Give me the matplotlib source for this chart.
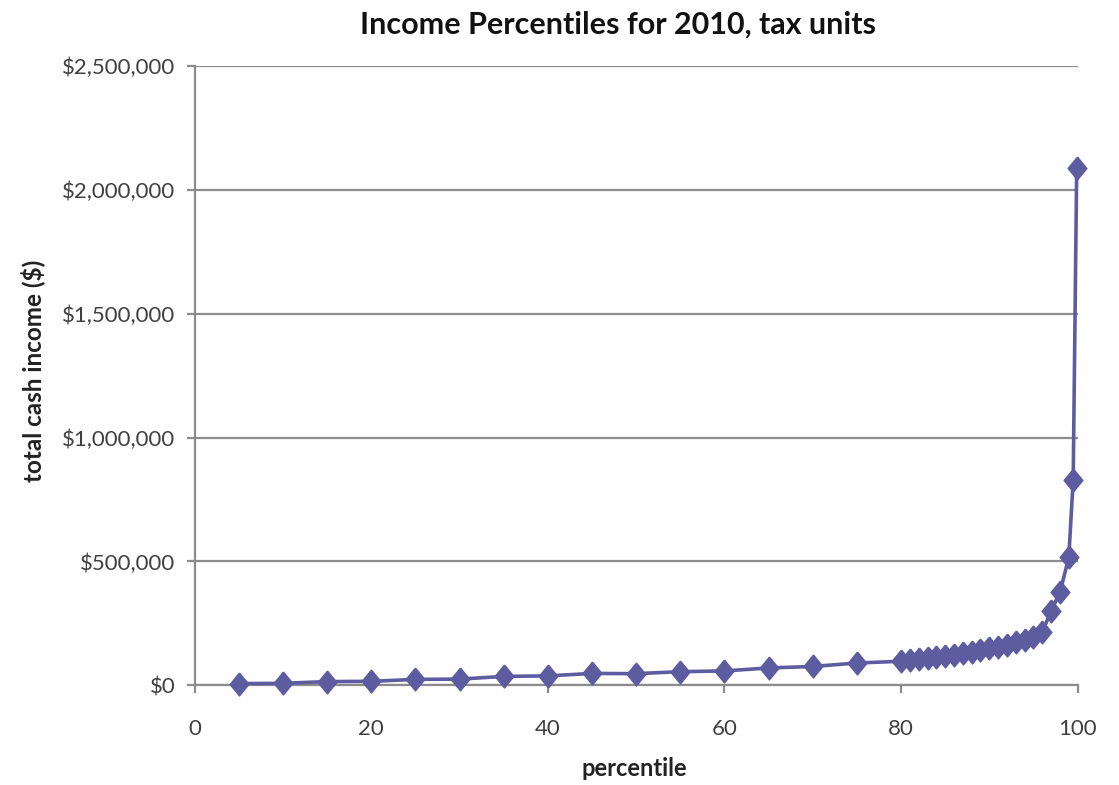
import matplotlib
matplotlib.use("Agg")
import matplotlib.pyplot as plt
from matplotlib.ticker import FuncFormatter

plt.rcParams['font.family'] = ['Lato', 'DejaVu Sans']

title = "Income Percentiles for 2010, tax units"
xlabel = "percentile"
ylabel = "total cash income ($)"

percentiles = [5, 10, 15, 20, 25, 30, 35, 40, 45, 50, 55, 60, 65, 70, 75,
               80, 81, 82, 83, 84, 85, 86, 87, 88, 89, 90, 91, 92, 93, 94, 95, 96,
               97, 98, 99, 99.5, 99.9]
income = [7000, 8000, 15000, 16000, 24000, 25000, 36000, 38000, 48000, 47000,
          55000, 58000, 70000, 76000, 90000,
          97000, 101000, 105000, 109000, 113000, 118000, 123000, 129000, 135000,
          142000, 149000, 156000, 164000, 173000, 183000, 196000, 215000,
          300000, 375000, 516000, 827000, 2090000]

x_ticks = [0, 20, 40, 60, 80, 100]
y_ticks = [0, 500000, 1000000, 1500000, 2000000, 2500000]

color = '#5E5CA0'
grid_color = '#8C8C8C'
text_color = '#404040'

# diamond slightly taller than wide, like the spreadsheet marker
diamond = [(0, 1), (0.82, 0), (0, -1), (-0.82, 0), (0, 1)]

fig = plt.figure(figsize=(11.19, 7.85), dpi=100)
ax = fig.add_axes([0.174, 0.127, 0.789, 0.789])

ax.plot(percentiles, income, color=color, lw=2.6, marker=diamond, markersize=16.5,
        markeredgecolor=color, markerfacecolor=color, zorder=3, clip_on=False)

ax.set_xlim(0, 100)
ax.set_ylim(0, 2500000)
ax.set_xticks(x_ticks)
ax.set_yticks(y_ticks)
ax.yaxis.set_major_formatter(FuncFormatter(lambda v, p: "${:,.0f}".format(v)))

ax.grid(axis='y', color=grid_color, lw=1.6)
ax.set_axisbelow(True)
for s in ['top', 'right']:
    ax.spines[s].set_visible(False)
for s in ['left', 'bottom']:
    ax.spines[s].set_color(grid_color)
    ax.spines[s].set_linewidth(1.6)

ax.tick_params(axis='both', direction='out', length=6, width=1.6, color=grid_color,
               labelsize=16, labelcolor=text_color)
ax.tick_params(axis='x', pad=18)
ax.tick_params(axis='y', pad=8)

ax.set_title(title, fontsize=22, fontweight='bold', color='#111111', pad=23, x=0.479)
ax.set_xlabel(xlabel, fontsize=17, fontweight='bold', color='#222222')
ax.set_ylabel(ylabel, fontsize=17.5, fontweight='bold', color='#222222')
ax.xaxis.set_label_coords(0.498, -0.116)
ax.yaxis.set_label_coords(-0.169, 0.507)

fig.savefig("out.png", dpi=100, facecolor='white')
